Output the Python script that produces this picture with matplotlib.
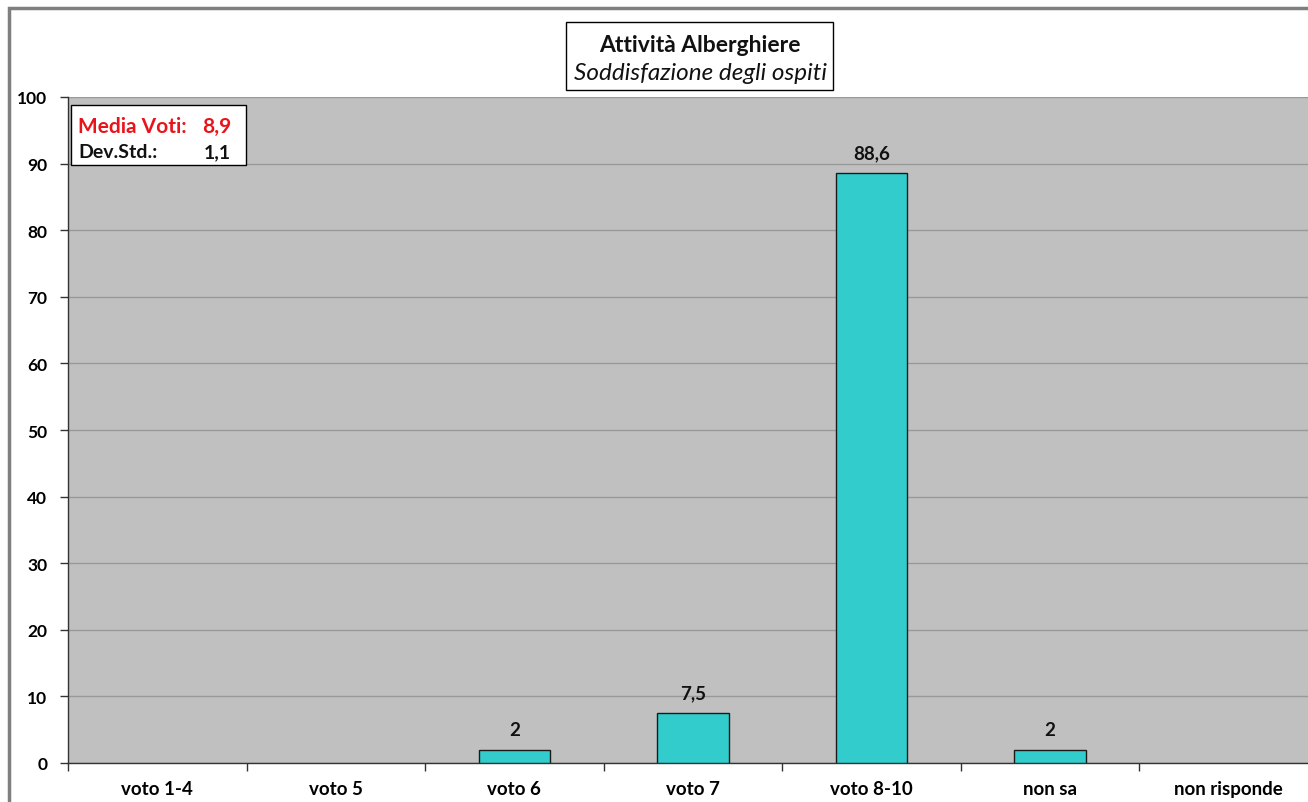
import matplotlib
matplotlib.use("Agg")
import matplotlib.pyplot as plt
from matplotlib.patches import Rectangle
from matplotlib.ticker import MultipleLocator, FixedLocator
import numpy as np

categories = ["voto 1-4", "voto 5", "voto 6", "voto 7", "voto 8-10", "non sa", "non risponde"]
values = [0, 0, 2, 7.5, 88.6, 2, 0]
labels = ["", "", "2", "7,5", "88,6", "2", ""]
title_main = "Attività Alberghiere"
title_sub = "Soddisfazione degli ospiti"
stats_names = ["Media Voti:", "Dev.Std.:"]
stats_vals = ["8,9", "1,1"]

plt.rcParams['font.family'] = ['Lato', 'DejaVu Sans']

W, H = 1308, 803
fig = plt.figure(figsize=(W / 100, H / 100), dpi=100)
fig.patch.set_facecolor("white")

def fx(px):
    return px / W

def fy(py):
    return 1 - py / H

# outer border
fig.patches.append(Rectangle((fx(9), fy(830)), fx(1400), fy(9) - fy(830),
                             transform=fig.transFigure, fill=False,
                             edgecolor="#7f7f7f", linewidth=2.5, zorder=0))

left, right, top, bottom = 68, 1318, 98, 764
ax = fig.add_axes([fx(left), fy(bottom), fx(right - left), fy(top) - fy(bottom)])
ax.set_facecolor("#c0c0c0")

x = np.arange(len(categories))
edges = ["#1a1a1a" if v > 0 else "none" for v in values]
ax.bar(x, values, width=0.4, color="#33cccc", edgecolor=edges, linewidth=1.0, zorder=3)
for xi, v, lab in zip(x, values, labels):
    if lab:
        ax.annotate(lab, (xi, v), xytext=(0, 20), textcoords="offset pixels",
                    ha="center", va="center", fontsize=13.5, fontweight="bold", color="#111111")

ax.set_xlim(-0.5, len(categories) - 0.5)
ax.set_ylim(0, 100)
ax.yaxis.set_major_locator(MultipleLocator(10))
ax.grid(axis="y", color="#999999", linewidth=1.0, zorder=1)
ax.set_axisbelow(True)

ax.set_xticks(x)
ax.set_xticklabels(categories, fontsize=13.5, fontweight="bold")
ax.xaxis.set_minor_locator(FixedLocator(np.arange(-0.5, len(categories), 1.0)))
ax.tick_params(axis="x", which="major", length=0, pad=12)
ax.tick_params(axis="x", which="minor", length=6, width=1, color="#333333")
ax.tick_params(axis="y", length=6, width=1, color="#333333", pad=9)
for t in ax.get_yticklabels():
    t.set_fontweight("bold")
    t.set_fontsize(12.5)

for s in ["top", "right"]:
    ax.spines[s].set_visible(False)
for s in ["left", "bottom"]:
    ax.spines[s].set_color("#333333")
    ax.spines[s].set_linewidth(1.0)

# title box
fig.patches.append(Rectangle((fx(566), fy(91)), fx(833 - 566), fy(23) - fy(91),
                             transform=fig.transFigure, facecolor="white",
                             edgecolor="black", linewidth=1.0, zorder=5))
fig.text(fx(699.5), fy(45), title_main, ha="center", va="center",
         fontsize=16.5, fontweight="bold", color="#111111", zorder=6)
fig.text(fx(700), fy(74), title_sub, ha="center", va="center",
         fontsize=17.5, fontstyle="italic", color="#111111", zorder=6)

# stats box
fig.patches.append(Rectangle((fx(71), fy(166)), fx(246 - 71), fy(106) - fy(166),
                             transform=fig.transFigure, facecolor="white",
                             edgecolor="black", linewidth=1.0, zorder=5))
colors = ["#e8141c", "#111111"]
sizes = [15, 14]
ys = [127, 153]
for name, val, c, sz, yy in zip(stats_names, stats_vals, colors, sizes, ys):
    fig.text(fx(78), fy(yy), name, ha="left", va="center", fontsize=sz,
             fontweight="bold", color=c, zorder=6)
    fig.text(fx(231), fy(yy), val, ha="right", va="center", fontsize=sz,
             fontweight="bold", color=c, zorder=6)

fig.savefig("out.png", dpi=100)
